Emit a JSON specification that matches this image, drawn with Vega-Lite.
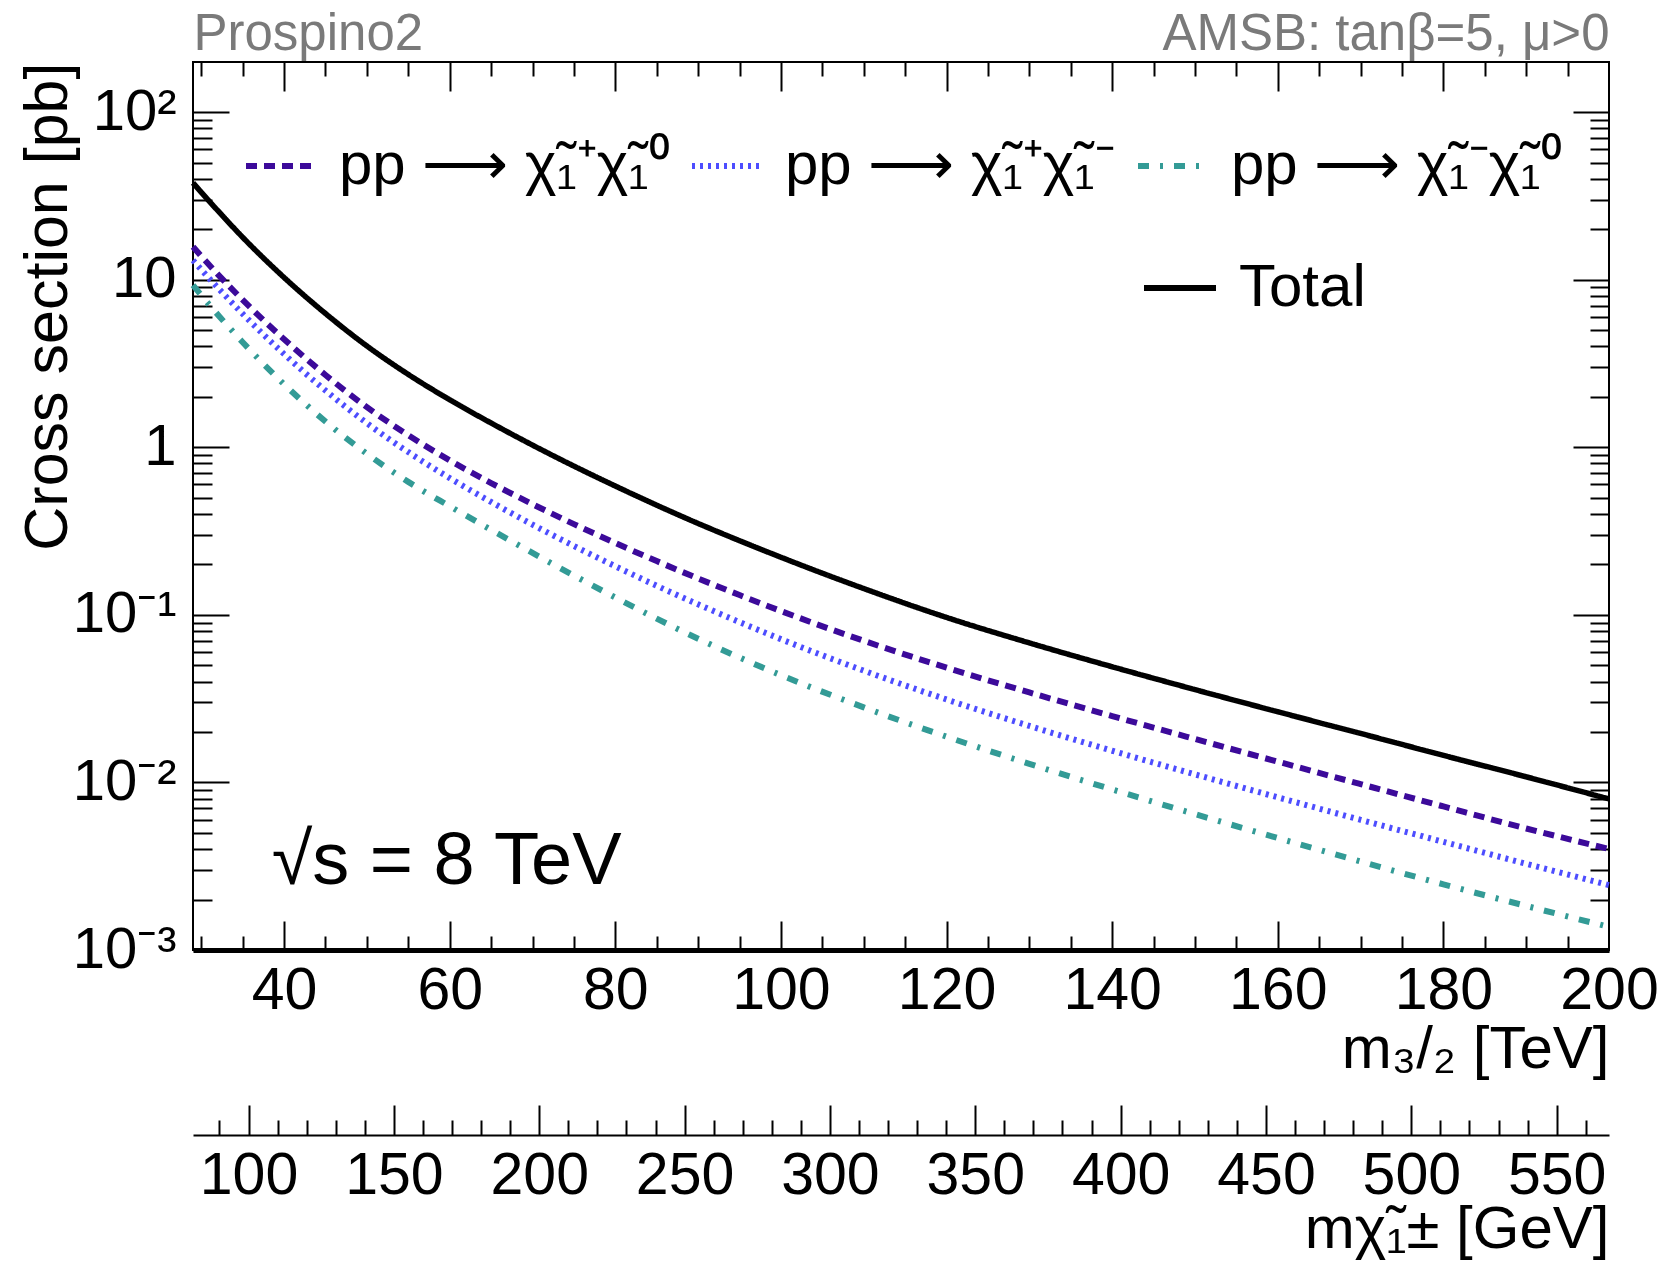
{
  "$schema": "https://vega.github.io/schema/vega-lite/v6.json",
  "width": 1416,
  "height": 888,
  "autosize": {"type": "none"},
  "padding": {"left": 193, "top": 62, "right": 63, "bottom": 338},
  "background": "white",
  "config": {
    "font": "Liberation Sans",
    "view": {"stroke": "black", "strokeWidth": 2},
    "axis": {"grid": false, "labelFont": "Liberation Sans", "titleFont": "Liberation Sans", "labelColor": "black", "titleColor": "black", "tickColor": "black", "domainColor": "black", "titleFontWeight": "normal", "tickWidth": 2, "domainWidth": 2, "minExtent": 0, "labelOverlap": false, "labelFlush": false, "labelBound": false, "labelLimit": 1000, "titleLimit": 3000},
    "legend": {"labelFont": "Liberation Sans", "labelColor": "black", "labelLimit": 2000, "padding": 0}
  },
  "datasets": {
    "xsec": [
      {"m": 29, "process": "C1+N1", "xsec": 15.7}, {"m": 30, "process": "C1+N1", "xsec": 13.8}, {"m": 32, "process": "C1+N1", "xsec": 10.76}, {"m": 35, "process": "C1+N1", "xsec": 7.57}, {"m": 40, "process": "C1+N1", "xsec": 4.41}, {"m": 45, "process": "C1+N1", "xsec": 2.70}, {"m": 50, "process": "C1+N1", "xsec": 1.734}, {"m": 55, "process": "C1+N1", "xsec": 1.179}, {"m": 60, "process": "C1+N1", "xsec": 0.835}, {"m": 65, "process": "C1+N1", "xsec": 0.6115}, {"m": 70, "process": "C1+N1", "xsec": 0.4575}, {"m": 75, "process": "C1+N1", "xsec": 0.3478}, {"m": 80, "process": "C1+N1", "xsec": 0.2682}, {"m": 85, "process": "C1+N1", "xsec": 0.2092}, {"m": 90, "process": "C1+N1", "xsec": 0.1648}, {"m": 95, "process": "C1+N1", "xsec": 0.1312}, {"m": 100, "process": "C1+N1", "xsec": 0.1054}, {"m": 110, "process": "C1+N1", "xsec": 0.0700}, {"m": 120, "process": "C1+N1", "xsec": 0.0484}, {"m": 130, "process": "C1+N1", "xsec": 0.03443}, {"m": 140, "process": "C1+N1", "xsec": 0.02489}, {"m": 150, "process": "C1+N1", "xsec": 0.01816}, {"m": 160, "process": "C1+N1", "xsec": 0.0133}, {"m": 170, "process": "C1+N1", "xsec": 0.00977}, {"m": 180, "process": "C1+N1", "xsec": 0.00719}, {"m": 190, "process": "C1+N1", "xsec": 0.00531}, {"m": 200, "process": "C1+N1", "xsec": 0.00401},
      {"m": 29, "process": "C1+C1-", "xsec": 13.06}, {"m": 30, "process": "C1+C1-", "xsec": 11.48}, {"m": 32, "process": "C1+C1-", "xsec": 8.95}, {"m": 35, "process": "C1+C1-", "xsec": 6.25}, {"m": 40, "process": "C1+C1-", "xsec": 3.597}, {"m": 45, "process": "C1+C1-", "xsec": 2.18}, {"m": 50, "process": "C1+C1-", "xsec": 1.392}, {"m": 55, "process": "C1+C1-", "xsec": 0.9354}, {"m": 60, "process": "C1+C1-", "xsec": 0.6546}, {"m": 65, "process": "C1+C1-", "xsec": 0.4715}, {"m": 70, "process": "C1+C1-", "xsec": 0.3455}, {"m": 75, "process": "C1+C1-", "xsec": 0.2576}, {"m": 80, "process": "C1+C1-", "xsec": 0.1949}, {"m": 85, "process": "C1+C1-", "xsec": 0.1491}, {"m": 90, "process": "C1+C1-", "xsec": 0.1155}, {"m": 95, "process": "C1+C1-", "xsec": 0.0905}, {"m": 100, "process": "C1+C1-", "xsec": 0.0716}, {"m": 110, "process": "C1+C1-", "xsec": 0.04645}, {"m": 120, "process": "C1+C1-", "xsec": 0.03126}, {"m": 130, "process": "C1+C1-", "xsec": 0.02173}, {"m": 140, "process": "C1+C1-", "xsec": 0.01545}, {"m": 150, "process": "C1+C1-", "xsec": 0.01117}, {"m": 160, "process": "C1+C1-", "xsec": 0.00815}, {"m": 170, "process": "C1+C1-", "xsec": 0.00598}, {"m": 180, "process": "C1+C1-", "xsec": 0.00442}, {"m": 190, "process": "C1+C1-", "xsec": 0.00327}, {"m": 200, "process": "C1+C1-", "xsec": 0.00244},
      {"m": 29, "process": "C1-N1", "xsec": 9.27}, {"m": 30, "process": "C1-N1", "xsec": 8.07}, {"m": 32, "process": "C1-N1", "xsec": 6.18}, {"m": 35, "process": "C1-N1", "xsec": 4.23}, {"m": 40, "process": "C1-N1", "xsec": 2.377}, {"m": 45, "process": "C1-N1", "xsec": 1.424}, {"m": 50, "process": "C1-N1", "xsec": 0.914}, {"m": 55, "process": "C1-N1", "xsec": 0.6215}, {"m": 60, "process": "C1-N1", "xsec": 0.4446}, {"m": 65, "process": "C1-N1", "xsec": 0.3218}, {"m": 70, "process": "C1-N1", "xsec": 0.2342}, {"m": 75, "process": "C1-N1", "xsec": 0.1716}, {"m": 80, "process": "C1-N1", "xsec": 0.1269}, {"m": 85, "process": "C1-N1", "xsec": 0.0949}, {"m": 90, "process": "C1-N1", "xsec": 0.0720}, {"m": 95, "process": "C1-N1", "xsec": 0.0556}, {"m": 100, "process": "C1-N1", "xsec": 0.04365}, {"m": 110, "process": "C1-N1", "xsec": 0.02805}, {"m": 120, "process": "C1-N1", "xsec": 0.01875}, {"m": 130, "process": "C1-N1", "xsec": 0.01291}, {"m": 140, "process": "C1-N1", "xsec": 0.00908}, {"m": 150, "process": "C1-N1", "xsec": 0.00647}, {"m": 160, "process": "C1-N1", "xsec": 0.004656}, {"m": 170, "process": "C1-N1", "xsec": 0.003373}, {"m": 180, "process": "C1-N1", "xsec": 0.002466}, {"m": 190, "process": "C1-N1", "xsec": 0.001832}, {"m": 200, "process": "C1-N1", "xsec": 0.001374},
      {"m": 29, "process": "Total", "xsec": 37.8}, {"m": 30, "process": "Total", "xsec": 33.2}, {"m": 32, "process": "Total", "xsec": 25.8}, {"m": 35, "process": "Total", "xsec": 17.9}, {"m": 40, "process": "Total", "xsec": 10.3}, {"m": 45, "process": "Total", "xsec": 6.28}, {"m": 50, "process": "Total", "xsec": 4.02}, {"m": 55, "process": "Total", "xsec": 2.72}, {"m": 60, "process": "Total", "xsec": 1.92}, {"m": 65, "process": "Total", "xsec": 1.395}, {"m": 70, "process": "Total", "xsec": 1.03}, {"m": 75, "process": "Total", "xsec": 0.772}, {"m": 80, "process": "Total", "xsec": 0.587}, {"m": 85, "process": "Total", "xsec": 0.451}, {"m": 90, "process": "Total", "xsec": 0.351}, {"m": 95, "process": "Total", "xsec": 0.277}, {"m": 100, "process": "Total", "xsec": 0.2206}, {"m": 110, "process": "Total", "xsec": 0.1435}, {"m": 120, "process": "Total", "xsec": 0.0965}, {"m": 130, "process": "Total", "xsec": 0.068}, {"m": 140, "process": "Total", "xsec": 0.049}, {"m": 150, "process": "Total", "xsec": 0.0358}, {"m": 160, "process": "Total", "xsec": 0.0264}, {"m": 170, "process": "Total", "xsec": 0.0196}, {"m": 180, "process": "Total", "xsec": 0.0145}, {"m": 190, "process": "Total", "xsec": 0.0108}, {"m": 200, "process": "Total", "xsec": 0.00797}
    ],
    "chargino": [{"mchi": 80.9}, {"mchi": 568}],
    "note": [{"label": "\u221as = 8 TeV"}]
  },
  "resolve": {"scale": {"x": "independent", "color": "independent", "strokeDash": "independent"}, "axis": {"y": "independent"}},
  "layer": [
    {
      "data": {"name": "xsec"},
      "transform": [{"filter": "datum.process != 'Total'"}],
      "mark": {"type": "line", "strokeWidth": 6, "interpolate": "monotone"},
      "encoding": {
        "x": {"field": "m", "type": "quantitative", "scale": {"domain": [29, 200], "nice": false, "zero": false},
          "axis": {"orient": "bottom", "values": [40, 60, 80, 100, 120, 140, 160, 180, 200], "ticks": false, "domain": true, "domainWidth": 5, "labelFontSize": 59, "labelPadding": 58, "labelBaseline": "alphabetic", "labelAlign": "center", "format": "d",
            "title": "m\u2083/\u2082 [TeV]", "titleFontSize": 60, "titleX": 1416, "titleY": 117, "titleAlign": "right", "titleBaseline": "alphabetic", "titleAngle": 0}},
        "y": {"field": "xsec", "type": "quantitative", "scale": {"type": "log", "domain": [0.001, 199], "nice": false},
          "axis": {"orient": "left", "values": [0.001, 0.01, 0.1, 1, 10, 100], "ticks": false, "domain": false, "labelFontSize": 58, "labelPadding": 17, "labelBaseline": "middle", "labelAlign": "right",
            "labelExpr": "datum.value == 100 ? '10\u00b2' : datum.value == 10 ? '10' : datum.value == 1 ? '1' : datum.value == 0.1 ? '10\u207b\u00b9' : datum.value == 0.01 ? '10\u207b\u00b2' : '10\u207b\u00b3'",
            "title": "Cross section [pb]", "titleFontSize": 61, "titleX": -127, "titleY": 0, "titleAngle": -90, "titleAlign": "right", "titleBaseline": "alphabetic"}},
        "color": {"field": "process", "type": "nominal", "scale": {"domain": ["C1+N1", "C1+C1-", "C1-N1"], "range": ["#3c0a9a", "#4d4dff", "#339b96"]},
          "legend": {"title": null, "orient": "none", "legendX": 50, "legendY": 66, "direction": "horizontal", "columns": 3, "gridAlign": "all", "symbolType": "stroke", "symbolSize": 4900, "symbolStrokeWidth": 6, "labelFontSize": 60, "labelOffset": 20, "columnPadding": 10,
            "labelExpr": "datum.label == 'C1+N1' ? 'pp \u27f6 \u03c7\u0303\u2081\u207a\u03c7\u0303\u2081\u2070' : datum.label == 'C1+C1-' ? 'pp \u27f6 \u03c7\u0303\u2081\u207a\u03c7\u0303\u2081\u207b' : 'pp \u27f6 \u03c7\u0303\u2081\u207b\u03c7\u0303\u2081\u2070'"}},
        "strokeDash": {"field": "process", "type": "nominal", "scale": {"domain": ["C1+N1", "C1+C1-", "C1-N1"], "range": [[11, 7], [3, 5], [11, 11, 3, 11]]},
          "legend": {"title": null, "orient": "none", "legendX": 50, "legendY": 66, "direction": "horizontal", "columns": 3, "gridAlign": "all", "symbolType": "stroke", "symbolSize": 4900, "symbolStrokeWidth": 6, "labelFontSize": 60, "labelOffset": 20, "columnPadding": 10,
            "labelExpr": "datum.label == 'C1+N1' ? 'pp \u27f6 \u03c7\u0303\u2081\u207a\u03c7\u0303\u2081\u2070' : datum.label == 'C1+C1-' ? 'pp \u27f6 \u03c7\u0303\u2081\u207a\u03c7\u0303\u2081\u207b' : 'pp \u27f6 \u03c7\u0303\u2081\u207b\u03c7\u0303\u2081\u2070'"}}
      }
    },
    {
      "data": {"name": "xsec"},
      "transform": [{"filter": "datum.process == 'Total'"}],
      "mark": {"type": "line", "color": "black", "strokeWidth": 5.5, "interpolate": "monotone"},
      "encoding": {
        "x": {"field": "m", "type": "quantitative", "scale": {"domain": [29, 200], "nice": false, "zero": false},
          "axis": {"orient": "top", "offset": -888, "values": [30, 35, 40, 45, 50, 55, 60, 65, 70, 75, 80, 85, 90, 95, 100, 105, 110, 115, 120, 125, 130, 135, 140, 145, 150, 155, 160, 165, 170, 175, 180, 185, 190, 195], "labels": false, "domain": false, "title": null,
            "tickSize": {"condition": {"test": "datum.value % 20 === 0", "value": 29}, "value": 14}}},
        "y": {"field": "xsec", "type": "quantitative", "scale": {"type": "log", "domain": [0.001, 199], "nice": false},
          "axis": {"orient": "right", "offset": -1416, "values": [0.001, 0.002, 0.003, 0.004, 0.005, 0.006, 0.007, 0.008, 0.009, 0.01, 0.02, 0.03, 0.04, 0.05, 0.06, 0.07, 0.08, 0.09, 0.1, 0.2, 0.3, 0.4, 0.5, 0.6, 0.7, 0.8, 0.9, 1, 2, 3, 4, 5, 6, 7, 8, 9, 10, 20, 30, 40, 50, 60, 70, 80, 90, 100], "labels": false, "domain": false, "title": null,
            "tickSize": {"condition": {"test": "abs(log(datum.value)/LN10 - round(log(datum.value)/LN10)) < 0.001", "value": 36}, "value": 19}}},
        "strokeDash": {"field": "process", "type": "nominal", "scale": {"domain": ["Total"], "range": [[1, 0]]},
          "legend": {"title": null, "orient": "none", "legendX": 948, "legendY": 187, "symbolType": "stroke", "symbolSize": 5184, "symbolStrokeWidth": 6, "symbolStrokeColor": "black", "labelFontSize": 60, "labelOffset": 20}}
      }
    },
    {
      "data": {"name": "xsec"},
      "transform": [{"filter": "datum.process == 'Total'"}],
      "mark": {"type": "point", "opacity": 0},
      "encoding": {
        "x": {"field": "m", "type": "quantitative", "scale": {"domain": [29, 200], "nice": false, "zero": false},
          "axis": {"orient": "bottom", "offset": -888, "values": [30, 35, 40, 45, 50, 55, 60, 65, 70, 75, 80, 85, 90, 95, 100, 105, 110, 115, 120, 125, 130, 135, 140, 145, 150, 155, 160, 165, 170, 175, 180, 185, 190, 195], "labels": false, "domain": false,
            "tickSize": {"condition": {"test": "datum.value % 20 === 0", "value": 29}, "value": 14},
            "title": "Prospino2", "titleFontSize": 51, "titleColor": "#7a7a7a", "titleX": 0, "titleY": -13, "titleAlign": "left", "titleBaseline": "alphabetic", "titleAngle": 0}},
        "y": {"field": "xsec", "type": "quantitative", "scale": {"type": "log", "domain": [0.001, 199], "nice": false},
          "axis": {"orient": "left", "offset": -1416, "values": [0.001, 0.002, 0.003, 0.004, 0.005, 0.006, 0.007, 0.008, 0.009, 0.01, 0.02, 0.03, 0.04, 0.05, 0.06, 0.07, 0.08, 0.09, 0.1, 0.2, 0.3, 0.4, 0.5, 0.6, 0.7, 0.8, 0.9, 1, 2, 3, 4, 5, 6, 7, 8, 9, 10, 20, 30, 40, 50, 60, 70, 80, 90, 100], "labels": false, "domain": false, "title": null,
            "tickSize": {"condition": {"test": "abs(log(datum.value)/LN10 - round(log(datum.value)/LN10)) < 0.001", "value": 36}, "value": 19}}}
      }
    },
    {
      "data": {"name": "xsec"},
      "transform": [{"filter": "datum.process == 'Total'"}],
      "mark": {"type": "point", "opacity": 0},
      "encoding": {
        "x": {"field": "m", "type": "quantitative", "scale": {"domain": [29, 200], "nice": false, "zero": false},
          "axis": {"orient": "top", "ticks": false, "labels": false, "domain": false,
            "title": "AMSB: tan\u03b2=5, \u03bc>0", "titleFontSize": 51, "titleColor": "#7a7a7a", "titleX": 1416, "titleY": -13, "titleAlign": "right", "titleBaseline": "alphabetic", "titleAngle": 0}}
      }
    },
    {
      "data": {"name": "note"},
      "mark": {"type": "text", "fontSize": 74, "align": "left", "baseline": "alphabetic", "font": "Liberation Sans", "color": "black"},
      "encoding": {
        "text": {"field": "label"},
        "x": {"datum": 38.5, "type": "quantitative", "scale": {"domain": [29, 200], "nice": false, "zero": false}, "axis": null},
        "y": {"datum": 0.00248, "type": "quantitative", "axis": null}
      }
    },
    {
      "data": {"name": "chargino"},
      "mark": {"type": "point", "opacity": 0},
      "encoding": {
        "x": {"field": "mchi", "type": "quantitative", "scale": {"domain": [80.9, 568], "nice": false, "zero": false},
          "axis": {"orient": "top", "offset": -1073, "values": [90, 100, 110, 120, 130, 140, 150, 160, 170, 180, 190, 200, 210, 220, 230, 240, 250, 260, 270, 280, 290, 300, 310, 320, 330, 340, 350, 360, 370, 380, 390, 400, 410, 420, 430, 440, 450, 460, 470, 480, 490, 500, 510, 520, 530, 540, 550, 560], "labels": false, "domain": true, "domainWidth": 2, "title": null,
            "tickSize": {"condition": {"test": "datum.value % 50 === 0", "value": 30}, "value": 15}}}
      }
    },
    {
      "data": {"name": "chargino"},
      "mark": {"type": "point", "opacity": 0},
      "encoding": {
        "x": {"field": "mchi", "type": "quantitative", "scale": {"domain": [80.9, 568], "nice": false, "zero": false},
          "axis": {"orient": "bottom", "offset": 185, "values": [100, 150, 200, 250, 300, 350, 400, 450, 500, 550], "ticks": false, "domain": false, "labelFontSize": 59, "labelPadding": 58, "labelBaseline": "alphabetic", "labelAlign": "center", "format": "d",
            "title": "m\u03c7\u0303\u2081\u00b1 [GeV]", "titleFontSize": 60, "titleX": 1416, "titleY": 112, "titleAlign": "right", "titleBaseline": "alphabetic", "titleAngle": 0}}
      }
    }
  ]
}
